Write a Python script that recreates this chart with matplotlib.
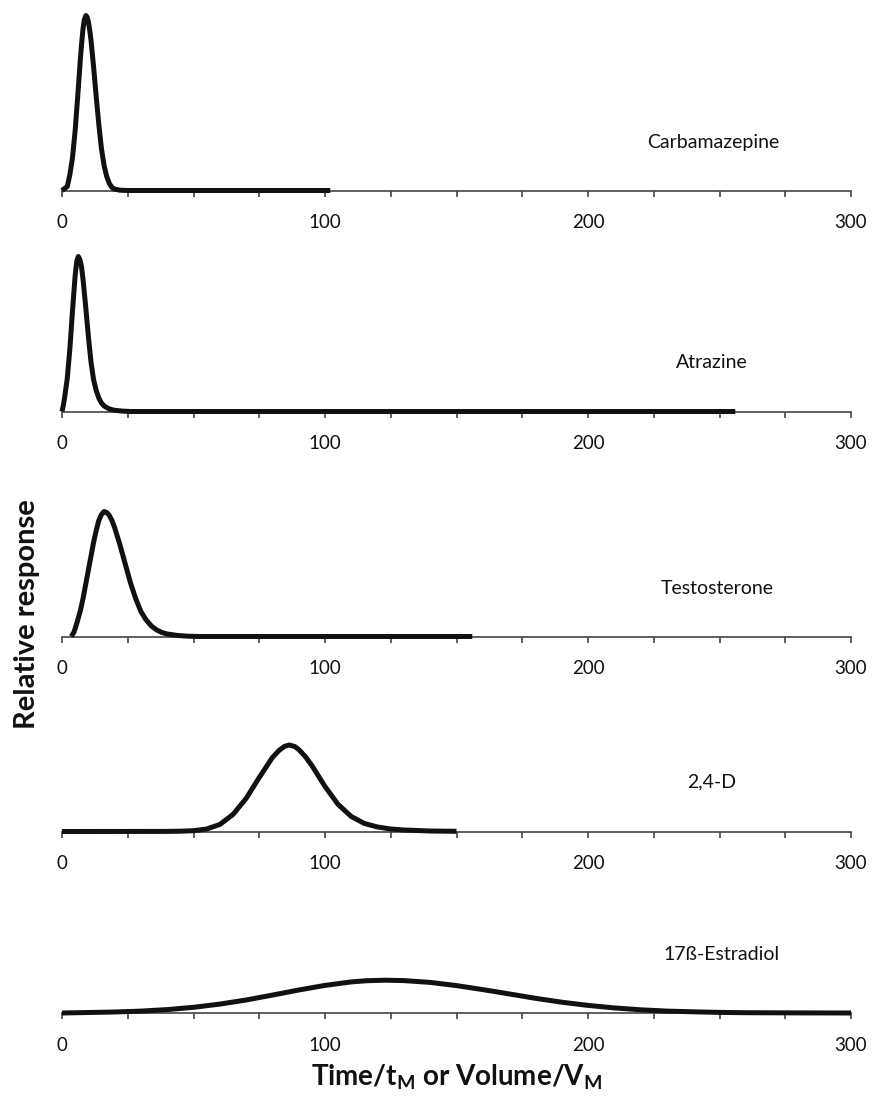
import matplotlib
matplotlib.use("Agg")
import matplotlib.pyplot as plt

plt.rcParams['font.family'] = ['Lato', 'DejaVu Sans']
plt.rcParams['mathtext.fontset'] = 'custom'
plt.rcParams['mathtext.rm'] = 'Lato'
plt.rcParams['mathtext.bf'] = 'Lato:bold'

# ---- data (x in t/tM units, y = relative response in a common scale) ----
names = ["Carbamazepine", "Atrazine", "Testosterone", "2,4-D", "17ß-Estradiol"]

carb_x = [0, 2, 3, 4, 5, 6, 7, 7.5, 8, 8.5, 9.1, 9.6, 10, 10.5, 11, 12, 13, 14, 15, 16, 17, 18, 19, 20, 22, 25, 102]
carb_y = [0, 4, 16, 33, 60, 95, 132, 148, 162, 171, 175, 173, 169, 161, 151, 124, 94, 66, 42, 25, 14, 7, 3, 1.4, 0.3, 0, 0]

atra_x = [0, 0.5, 1, 2, 3, 4, 5, 5.6, 6.2, 6.8, 7.4, 8, 9, 10, 11, 12, 13, 14, 15, 16, 18, 20, 23, 26, 256]
atra_y = [0, 6, 14, 33, 63, 101, 136, 150, 155, 152, 145, 132, 105, 76, 50, 32, 21, 13.5, 8.5, 5.5, 2.5, 1.2, 0.4, 0, 0]

test_x = [3.5, 4.5, 5.5, 7, 8, 10, 12, 13, 14, 15, 16, 17, 18, 19, 20, 22, 24, 26, 28, 30, 32, 34, 36, 38, 40, 44, 48, 52, 156]
test_y = [0, 4, 12, 26, 38, 66, 94, 106, 116, 122, 125, 124, 121, 116, 109, 92, 73, 54, 38, 25, 16.5, 10.5, 6.5, 4, 2.5, 1, 0.3, 0, 0]

d24_x = [0, 40, 45, 50, 55, 60, 65, 70, 75, 78, 80, 82.5, 84.5, 86.4, 88.5, 90, 92.5, 95, 100, 105, 110, 115, 120, 125, 130, 140, 150]
d24_y = [0, 0.1, 0.3, 0.8, 2.5, 7, 17, 33, 54, 66, 74, 81, 85, 86.5, 85, 82, 75, 66, 45, 27, 15, 8, 4.5, 2.5, 1.5, 0.5, 0.2]

estr_x = [0, 20, 30, 40, 50, 60, 70, 80, 90, 100, 110, 116, 123, 130, 140, 150, 160, 170, 180, 190, 200, 210, 220, 230, 240, 250, 260, 280, 300]
estr_y = [0, 1.0, 1.9, 3.4, 5.7, 8.9, 13.0, 17.9, 23.0, 27.6, 31.1, 32.3, 32.8, 32.4, 30.6, 27.4, 23.4, 19.1, 14.7, 10.8, 7.6, 5.1, 3.2, 1.9, 1.2, 0.6, 0.3, 0.1, 0]

series_x = [carb_x, atra_x, test_x, d24_x, estr_x]
series_y = [carb_y, atra_y, test_y, d24_y, estr_y]

x_ticks_major = [0, 100, 200, 300]
x_ticks_minor = [25, 50, 75, 125, 150, 175, 225, 250, 275]

# ---- layout (pixel positions of each baseline, label positions) ----
W, H = 881, 1108
axis_y_px = [190.5, 411.5, 636.5, 831.5, 1013]
label_xy_px = [(713, 143), (712, 362), (717, 588), (712, 782), (722, 955)]
x0_px, x1_px = 62, 851
panel_h = 180

fig = plt.figure(figsize=(W / 100, H / 100), dpi=100)

for i in range(5):
    ay = axis_y_px[i]
    ax = fig.add_axes([x0_px / W, (H - ay) / H, (x1_px - x0_px) / W, panel_h / H])
    ax.set_xlim(0, 300)
    ax.set_ylim(0, panel_h)
    ax.patch.set_alpha(0)
    for s in ['top', 'right', 'left']:
        ax.spines[s].set_visible(False)
    ax.spines['bottom'].set_color('#444444')
    ax.spines['bottom'].set_linewidth(1.2)
    ax.set_yticks([])
    ax.set_xticks(x_ticks_major)
    ax.set_xticks(x_ticks_minor, minor=True)
    ax.tick_params(axis='x', which='both', direction='out', length=4, width=1.2,
                   color='#444444', labelsize=13.5, pad=13, labelcolor='#111111')
    ax.plot(series_x[i], series_y[i], color='#111111', lw=3.6,
            solid_capstyle='butt', solid_joinstyle='round', clip_on=False, zorder=5)
    lx, ly = label_xy_px[i]
    fig.text(lx / W, (H - ly) / H, names[i], ha='center', va='center',
             fontsize=14, color='#111111')

fig.text(27 / W, (H - 614) / H, 'Relative response', rotation=90, ha='center',
         va='center', fontsize=21, fontweight='bold', color='#111111')
fig.text(457 / W, (H - 1077) / H, r'Time/t$_\mathbf{M}$ or Volume/V$_\mathbf{M}$',
         ha='center', va='center', fontsize=20, fontweight='bold', color='#111111')

fig.savefig('out.png', dpi=100)
